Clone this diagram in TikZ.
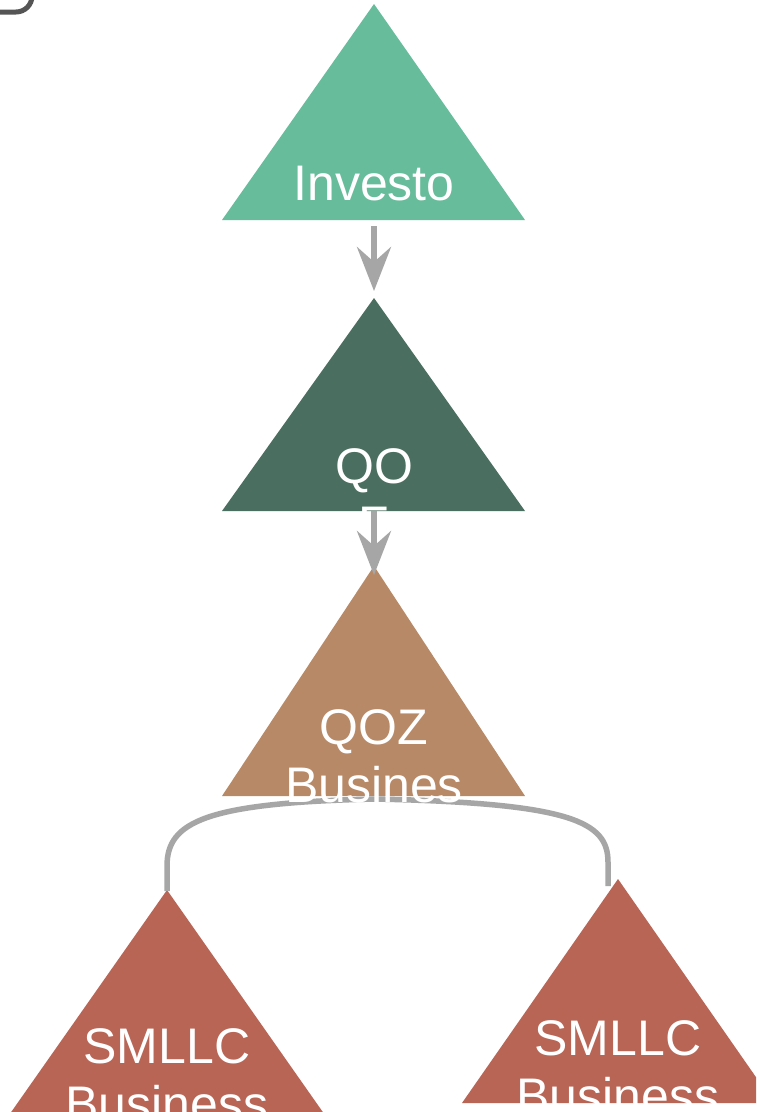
\documentclass[tikz,border=0pt]{standalone}
\usepackage{fontspec}
\setmainfont{Liberation Sans}
\usetikzlibrary{arrows.meta}
\definecolor{cInv}{HTML}{67BC9B}
\definecolor{cQof}{HTML}{4A6E5F}
\definecolor{cQoz}{HTML}{B88966}
\definecolor{cSm}{HTML}{B86555}
\definecolor{cEdge}{HTML}{A6A6A6}
\definecolor{cCorner}{HTML}{555555}
\tikzset{
  lbl/.style={text=white, anchor=base, inner sep=0pt, font=\fontsize{50}{58}\selectfont},
  edge/.style={draw=cEdge, line width=5.5pt},
  arr/.style={edge, -{Stealth[length=44pt, width=34pt, inset=15pt]}},
}
\begin{document}
\begin{tikzpicture}[x=1pt, y=-1pt]
\clip (0,0) rectangle (756,1112);
\useasboundingbox (0,0) rectangle (756,1112);
\fill[white] (0,0) rectangle (756,1112);
% partial frame at top-left
\draw[cCorner, line width=5pt, rounded corners=16pt] (-100,-60) rectangle (32,12);
% triangle coordinates
\coordinate (invA) at (374,4);   \coordinate (invL) at (222,220); \coordinate (invR) at (525,220);
\coordinate (qofA) at (374,298); \coordinate (qofL) at (222,511); \coordinate (qofR) at (525,511);
\coordinate (qozA) at (374,566); \coordinate (qozL) at (222,796); \coordinate (qozR) at (525,796);
\coordinate (sm1A) at (167,890); \coordinate (sm1L) at (7,1118); \coordinate (sm1R) at (327,1118);
\coordinate (sm2A) at (618,879); \coordinate (sm2L) at (462,1103); \coordinate (sm2R) at (774,1103);
% triangles
\fill[cInv] (invA) -- (invL) -- (invR) -- cycle;
\fill[cQof] (qofA) -- (qofL) -- (qofR) -- cycle;
\fill[cQoz] (qozA) -- (qozL) -- (qozR) -- cycle;
\fill[cSm] (sm1A) -- (sm1L) -- (sm1R) -- cycle;
\fill[cSm] (sm2A) -- (sm2L) -- (sm2R) -- cycle;
% connector end points
\coordinate (e1s) at (374,226); \coordinate (e1t) at (374,291);
\coordinate (e2s) at (374,511); \coordinate (e2t) at (374,575);
\coordinate (qozB) at (374,799);
\coordinate (sm1T) at (167,891);
\coordinate (sm2T) at (608,886);
% connectors
\draw[arr] (e1s) -- (e1t);
\draw[arr] (e2s) -- (e2t);
\draw[edge] (qozB) .. controls (205,803) and (167,822) .. (167,866) -- (sm1T);
\draw[edge] (qozB) .. controls (572,803) and (608,822) .. (608,862) -- (sm2T);
% labels
\node[lbl] (tInv) at (374,200) {Investo};
\begin{scope}
  \clip (qofA) -- (qofL) -- (qofR) -- cycle;
  \node[lbl] (tQof1) at (374,483) {QO};
  \node[lbl] (tQof2) at (374,541) {F};
\end{scope}
\node[lbl] (tQoz1) at (374,744) {QOZ};
\node[lbl] (tQoz2) at (374,802) {Busines};
\node[lbl] (tSm11) at (167,1063) {SMLLC};
\node[lbl] (tSm12) at (167,1121) {Business};
\begin{scope}
  \clip (sm2A) -- (sm2L) -- (sm2R) -- cycle;
  \node[lbl] (tSm21) at (618,1055) {SMLLC};
  \node[lbl] (tSm22) at (618,1113) {Business};
\end{scope}
\end{tikzpicture}
\end{document}
